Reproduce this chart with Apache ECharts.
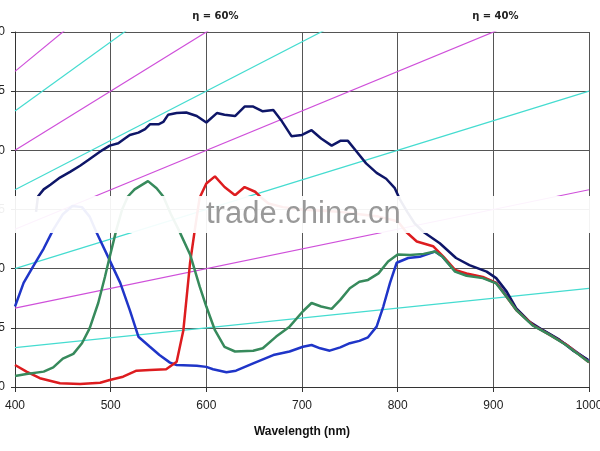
<!DOCTYPE html>
<html>
<head>
<meta charset="utf-8">
<script src="https://cdn.jsdelivr.net/npm/echarts@6/dist/echarts.min.js"></script>
<style>
  html, body { margin: 0; padding: 0; background: #fff; }
  #chart { width: 600px; height: 451px; }
</style>
</head>
<body>
<div id="chart"></div>
<script>
'use strict';

// wavelength (nm), value
var navyData = [[422,14.8],[424,16.1],[430,16.7],[437,17.1],[447,17.7],[458,18.2],[468,18.7],[477,19.2],[484,19.6],[491,20.0],[499,20.4],[508,20.6],[513,20.9],[520,21.3],[529,21.5],[536,21.8],[541,22.2],[550,22.2],[555,22.4],[560,23.0],[569,23.15],[579,23.2],[590,22.9],[600,22.35],[611,23.15],[619,23.0],[630,22.9],[640,23.7],[649,23.7],[659,23.3],[670,23.4],[679,22.45],[689,21.2],[700,21.3],[710,21.7],[720,21.0],[731,20.4],[740,20.8],[748,20.8],[757,19.9],[767,18.9],[778,18.1],[788,17.6],[797,16.8],[802,15.9],[810,14.8],[818,13.8],[827,13.1],[844,12.15],[861,10.9],[875,10.3],[893,9.75],[903,9.2],[914,8.06],[924,6.65],[938,5.5],[952,4.8],[969,4.0],[983,3.1],[999,2.3]];

var blueData = [[400,6.8],[409,8.8],[419,10.2],[430,11.7],[440,13.3],[450,14.6],[460,15.3],[470,15.2],[478,14.4],[485,13.1],[499,10.7],[510,8.8],[520,6.5],[529,4.25],[541,3.4],[551,2.7],[562,2.06],[569,1.86],[590,1.8],[600,1.7],[607,1.5],[621,1.24],[631,1.38],[649,2.0],[670,2.7],[687,3.0],[701,3.4],[710,3.55],[719,3.27],[729,3.07],[740,3.35],[750,3.7],[760,3.9],[769,4.2],[778,5.1],[785,6.8],[792,8.8],[799,10.5],[811,10.9],[823,11.0],[839,11.45],[847,11.0],[860,9.8],[872,9.5],[889,9.25],[903,8.8],[914,7.7],[924,6.55],[941,5.25],[959,4.45],[976,3.6],[1000,2.2]];

var greenData = [[400,0.93],[412,1.1],[430,1.3],[440,1.66],[450,2.4],[461,2.8],[470,3.7],[478,4.96],[487,7.1],[494,9.3],[499,11.0],[506,13.3],[512,15.0],[518,16.1],[525,16.7],[539,17.4],[548,16.8],[555,16.1],[563,14.6],[571,13.3],[583,11.2],[593,8.5],[600,6.8],[609,4.8],[619,3.4],[630,3.0],[649,3.07],[659,3.27],[673,4.26],[687,5.1],[701,6.4],[710,7.1],[720,6.8],[731,6.6],[740,7.36],[750,8.35],[760,8.9],[769,9.05],[780,9.6],[790,10.6],[800,11.2],[813,11.15],[827,11.25],[839,11.45],[847,11.0],[860,9.75],[872,9.4],[889,9.2],[903,8.75],[914,7.6],[924,6.5],[941,5.2],[959,4.4],[976,3.55],[1000,2.1]];

var redData = [[400,1.86],[412,1.3],[426,0.74],[447,0.31],[468,0.25],[489,0.36],[499,0.59],[513,0.87],[527,1.38],[541,1.44],[558,1.5],[569,2.14],[576,4.8],[583,10.5],[588,13.3],[593,16.0],[600,17.2],[609,17.8],[619,16.9],[630,16.2],[640,16.9],[651,16.5],[656,16.1],[665,15.5],[680,15.2],[700,15.0],[720,14.9],[740,14.8],[760,14.6],[780,14.4],[800,14.0],[809,13.1],[820,12.3],[837,11.9],[848,11.0],[860,9.9],[872,9.6],[889,9.3],[903,8.8],[914,7.6],[924,6.5],[942,5.2],[959,4.4],[977,3.55],[1000,2.1]];

// iso-efficiency lines: value at 400 nm and at 1000 nm
var etaNames = ['10%', '20%', '30%', '40%', '50%', '60%', '70%', '80%'];
var etaStart = [3.33, 6.67, 10, 13.33, 16.67, 20, 23.33, 26.67];
var etaEnd = [8.33, 16.67, 25, 33.33, 41.67, 50, 58.33, 66.67];
var etaLabels = { '60%': 600, '40%': 900 };

var xTicks = [400, 500, 600, 700, 800, 900, 1000];
var yTicks = [0, 5, 10, 15, 20, 25, 30];

var chart = echarts.init(document.getElementById('chart'));
var font = 'Liberation Sans, Arial, sans-serif';

var series = [];
etaNames.forEach(function (name, i) {
	var s = {
		name: 'eta ' + name,
		type: 'line',
		symbol: 'none',
		silent: true,
		clip: true,
		lineStyle: { color: i % 2 === 0 ? '#45dcd0' : '#cf50da', width: 1.2 },
		data: [[400, etaStart[i]], [1000, etaEnd[i]]],
		z: 1
	};
	if (etaLabels[name]) {
		s.markPoint = {
			symbol: 'circle',
			symbolSize: 1,
			silent: true,
			itemStyle: { color: 'rgba(0,0,0,0)' },
			data: [{ coord: [etaLabels[name], 30] }],
			label: {
				show: true,
				position: 'inside',
				formatter: 'η = ' + name,
				offset: [name === '60%' ? 9 : 2, -16],
				fontFamily: 'DejaVu Sans, sans-serif',
				fontWeight: 'bold',
				fontSize: 10,
				color: '#222'
			}
		};
	}
	series.push(s);
});

function curve(name, color, data) {
	return {
		name: name,
		type: 'line',
		symbol: 'none',
		silent: true,
		lineStyle: { color: color, width: 2.5 },
		data: data,
		z: 3
	};
}
series.push(curve('blue', '#1f35c8', blueData));
series.push(curve('navy', '#0e1668', navyData));
series.push(curve('red', '#dd1c1f', redData));
series.push(curve('green', '#378a5c', greenData));

chart.setOption({
	animation: false,
	backgroundColor: '#fff',
	grid: { left: 15, right: 11, top: 32, bottom: 64, containLabel: false, outerBoundsMode: 'none' },
	xAxis: {
		type: 'value',
		min: 400,
		max: 1000,
		interval: 100,
		name: 'Wavelength (nm)',
		nameLocation: 'middle',
		nameGap: 39,
		nameTextStyle: { fontFamily: font, fontWeight: 'bold', fontSize: 12, color: '#111' },
		axisLine: { lineStyle: { color: '#333', width: 1 } },
		axisTick: { show: true, length: 5, lineStyle: { color: '#333' } },
		axisLabel: { margin: 13, fontFamily: font, fontSize: 12, color: '#222',
			formatter: function (v) { return xTicks.indexOf(v) >= 0 ? String(v) : ''; } },
		splitLine: { show: true, lineStyle: { color: '#555', width: 1 } }
	},
	yAxis: {
		type: 'value',
		min: 0,
		max: 30,
		interval: 5,
		axisLine: { show: true, lineStyle: { color: '#333', width: 1 } },
		axisTick: { show: true, length: 4, lineStyle: { color: '#333' } },
		axisLabel: { margin: 10, fontFamily: font, fontSize: 12, color: '#222',
			formatter: function (v) { return yTicks.indexOf(v) >= 0 ? String(v) : ''; } },
		splitLine: { show: true, lineStyle: { color: '#555', width: 1 } }
	},
	series: series,
	graphic: [
		{
			type: 'rect',
			left: 0,
			top: 196,
			shape: { width: 600, height: 37 },
			style: { fill: 'rgba(255,255,255,0.93)' },
			z: 100
		},
		{
			type: 'text',
			left: 206,
			top: 199,
			style: { text: 'trade.china.cn', font: '31px ' + font, fill: '#999' },
			z: 101
		}
	]
});
</script>
</body>
</html>
